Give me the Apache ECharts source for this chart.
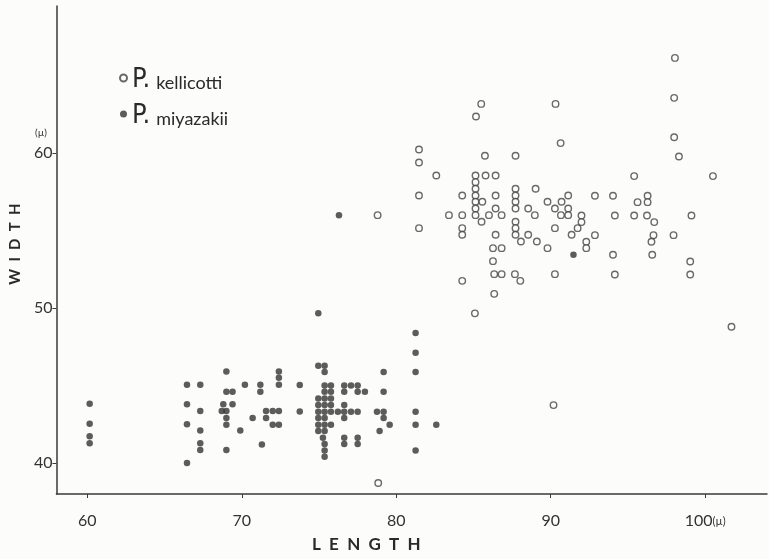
<!DOCTYPE html>
<html>
<head>
<meta charset="utf-8">
<script src="https://cdn.jsdelivr.net/npm/echarts@6/dist/echarts.min.js"></script>
<style>html,body{margin:0;padding:0;background:#fcfcfa;}#c{width:769px;height:559px;}</style>
</head>
<body>
<div id="c"></div>
<script>
// ---- data (length µ, width µ) ----
const seriesNames = ['P. kellicotti', 'P. miyazakii'];
const xTicks = [60, 70, 80, 90, 100];
const yTicks = [40, 50, 60];
const xTitle = 'L  E  N  G  T  H';
const yTitle = 'W  I  D  T  H';

const kellicotti = [
  [78.83,38.71],[78.79,56.0],
  [81.47,60.24],[81.47,59.4],[81.47,57.27],[81.47,55.16],
  [82.59,58.56],[83.41,56.0],
  [84.27,57.27],[84.27,56.0],[84.27,55.16],[84.27,54.73],[84.27,51.76],
  [85.09,49.66],[85.16,62.37],[85.5,63.18],
  [85.13,58.56],[85.13,58.13],[85.13,57.70],[85.13,57.27],[85.13,56.86],[85.13,56.43],[85.13,56.0],
  [85.57,56.86],[85.52,55.57],[85.74,59.83],[85.78,58.56],
  [86.43,58.56],[86.43,57.27],[86.43,56.43],[86.43,54.73],
  [86.0,56.0],[86.82,56.0],[86.26,53.87],[86.82,53.87],[86.26,53.03],
  [86.34,52.19],[86.82,52.19],[86.34,50.92],
  [87.72,59.83],[87.72,57.70],[87.72,57.27],[87.72,56.86],[87.72,56.43],
  [87.72,55.57],[87.72,55.16],[87.72,54.73],[87.68,52.19],[88.03,51.76],
  [88.07,54.3],[88.54,56.43],[88.54,54.73],[88.97,56.0],[89.02,57.70],[89.1,54.3],
  [89.79,56.86],[89.79,53.87],[90.18,43.74],
  [90.27,56.43],[90.27,55.16],[90.27,52.19],[90.31,63.18],[90.64,60.65],
  [90.66,56.0],[90.7,56.86],[91.13,57.27],[91.13,56.43],[91.13,56.0],
  [91.35,54.73],[91.74,55.16],[91.99,55.98],[91.99,55.55],
  [92.3,54.28],[92.3,53.87],[92.86,57.25],[92.86,54.71],
  [94.03,57.25],[94.03,53.44],[94.15,55.98],[94.15,52.17],
  [95.4,58.52],[95.4,55.98],[95.62,56.84],
  [96.27,57.25],[96.27,56.84],[96.23,55.98],
  [96.7,55.55],[96.65,54.71],[96.52,54.28],[96.57,53.44],
  [97.95,54.71],[98.04,66.15],[97.99,63.57],[97.99,61.03],[98.3,59.79],
  [99.11,55.98],[99.03,53.01],[99.03,52.17],
  [100.5,58.52],[101.7,48.8]
];

const miyazakii = [
  [60.15,43.83],[60.15,42.54],[60.15,41.72],[60.15,41.27],
  [66.45,45.05],[66.45,43.8],[66.45,42.5],[66.45,40.0],
  [67.31,45.05],[67.31,43.35],[67.31,42.1],[67.31,41.27],[67.31,40.84],
  [69.0,45.9],[69.0,44.6],[69.4,44.6],[68.8,43.8],[69.4,43.8],
  [68.7,43.35],[69.0,43.35],[69.0,42.9],[69.0,42.47],[69.0,40.84],
  [69.9,42.1],[70.2,45.05],[70.7,42.9],[71.2,45.05],[71.2,44.6],[71.3,41.2],
  [71.57,43.35],[71.57,42.9],[72.0,43.35],[72.0,42.47],
  [72.4,45.9],[72.4,45.5],[72.4,45.05],[72.4,43.35],[72.4,42.47],
  [73.75,45.03],[73.75,43.33],
  [74.95,49.66],[74.95,46.28],[75.36,46.28],[75.36,45.87],
  [75.36,45.01],[75.77,45.01],[76.63,45.01],[77.07,45.01],[77.5,45.01],
  [75.36,44.6],[75.77,44.6],[76.63,44.6],[77.5,44.6],[77.97,44.6],
  [74.95,44.17],[75.36,44.17],[75.77,44.17],
  [74.95,43.74],[75.36,43.74],[75.77,43.74],[76.63,43.74],
  [74.95,43.31],[75.36,43.31],[75.77,43.31],[76.22,43.31],[76.63,43.31],[77.07,43.31],[77.5,43.31],
  [78.75,43.31],[79.18,43.31],
  [74.95,42.9],[75.36,42.9],[76.63,42.9],[79.18,42.9],
  [74.95,42.47],[75.36,42.47],[75.77,42.47],[79.57,42.47],
  [74.95,42.06],[75.36,42.06],[78.92,42.06],
  [75.25,41.63],[76.63,41.63],[77.5,41.63],
  [75.36,41.23],[76.63,41.23],[77.5,41.23],
  [75.36,40.8],[75.36,40.41],
  [76.29,56.0],[79.18,45.87],[79.18,44.6],
  [81.25,48.39],[81.25,47.12],[81.25,45.87],[81.25,43.31],[81.25,42.47],[81.25,40.8],
  [82.59,42.47],[91.47,53.44]
];

const ink = '#3a3a3a';
const font = 'Lato, "DejaVu Sans", sans-serif';
const chart = echarts.init(document.getElementById('c'));
chart.setOption({
  backgroundColor: '#fcfcfa',
  animation: false,
  grid: { left: 56, right: 2, top: 6, bottom: 65 },
  legend: {
    orient: 'vertical', left: 114, top: 61, itemGap: 9,
    itemWidth: 7, itemHeight: 7,
    formatter: function (n) { return '{p|P.}{s|' + n.slice(3) + '}'; },
    textStyle: {
      rich: {
        p: { fontSize: 27, fontFamily: '"DejaVu Sans Condensed", "DejaVu Sans", sans-serif', color: '#2a2a2a', lineHeight: 30, verticalAlign: 'bottom', padding: [0, 6, 0, 0] },
        s: { fontSize: 18, fontFamily: font, color: '#2a2a2a', lineHeight: 30, verticalAlign: 'bottom', padding: [0, 0, 1, 0] }
      }
    },
    data: seriesNames
  },
  xAxis: {
    type: 'value', min: 58, max: 104,
    axisLine: { lineStyle: { color: ink, width: 1.5 } },
    axisTick: { show: true, length: 4, lineStyle: { color: ink }, customValues: xTicks },
    axisLabel: {
      customValues: xTicks, margin: 19, color: '#333', fontSize: 16, fontFamily: font,
      formatter: function (v) { return v === 100 ? '100{u|(µ)}' : String(v); },
      rich: { u: { fontSize: 11, color: '#333', fontFamily: font } }
    },
    splitLine: { show: false }
  },
  yAxis: {
    type: 'value', min: 38, max: 69.5,
    name: yTitle, nameLocation: 'middle', nameGap: 33, nameRotate: 90,
    nameTextStyle: { fontSize: 15, fontWeight: 'bold', color: '#2a2a2a', fontFamily: font, padding: [0, 0, 0, 12] },
    axisLine: { lineStyle: { color: ink, width: 1.5 } },
    axisTick: { show: true, length: 4, lineStyle: { color: ink }, customValues: yTicks },
    axisLabel: { customValues: yTicks, margin: 4, color: '#333', fontSize: 16, fontFamily: font },
    splitLine: { show: false }
  },
  graphic: [
    { type: 'text', left: 312, top: 536, style: { text: xTitle, fill: '#2a2a2a', font: 'bold 17px ' + font } },
    { type: 'text', left: 35, top: 128, style: { text: '(µ)', fill: '#333', font: '10px ' + font } }
  ],
  series: [
    {
      name: seriesNames[0], type: 'scatter', data: kellicotti, symbol: 'circle', symbolSize: 6.5,
      itemStyle: { color: '#fcfcfa', borderColor: '#444', borderWidth: 1.4 }
    },
    {
      name: seriesNames[1], type: 'scatter', data: miyazakii, symbol: 'circle', symbolSize: 6.5,
      itemStyle: { color: '#333' }
    }
  ]
});
</script>
</body>
</html>
